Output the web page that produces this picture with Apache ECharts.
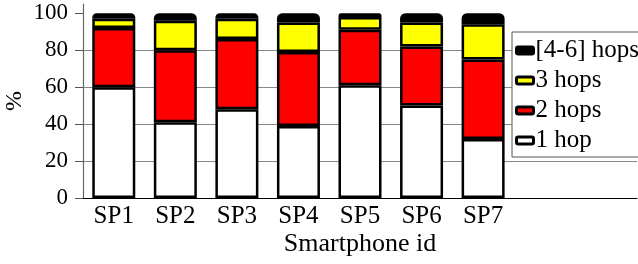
<!DOCTYPE html>
<html>
<head>
<meta charset="utf-8">
<script type="text/javascript" src="https://cdn.jsdelivr.net/npm/echarts@6/dist/echarts.min.js"></script>
<style>
    html, body { margin: 0; padding: 0; background: #fff; }
</style>
</head>
<body>
<div id="hops_chart" style="width: 638px;height: 264px;"></div>
<script>
    // categories (the last two are empty slots, the plot keeps room for them)
    var phones = ['SP1', 'SP2', 'SP3', 'SP4', 'SP5', 'SP6', 'SP7', '', ''];
    var yTicks = [0, 20, 40, 60, 80, 100];

    // share of packets per hop count, in %
    var hop1 = [60, 41, 48, 39, 61, 50, 32];
    var hop2 = [32, 39, 38, 40, 30, 32, 43];
    var hop3 = [5, 16, 11, 16, 7, 13, 19];
    var hop4to6 = [3, 4, 3, 5, 2, 5, 6];

    var font = 'Liberation Serif';

    function barSeries(name, data, color, radius) {
        return {
            name: name,
            type: 'bar',
            stack: 'hops',
            data: data,
            barWidth: 43,
            itemStyle: {
                color: color,
                borderColor: '#000',
                borderWidth: 2.5,
                borderRadius: radius
            }
        };
    }

    var myChart = echarts.init(document.getElementById('hops_chart'));
    var option = {
        animation: false,
        textStyle: { fontFamily: font },
        grid: {
            left: 83,
            right: 1,
            top: 4,
            bottom: 66,
            outerBoundsMode: 'none'
        },
        legend: {
            orient: 'vertical',
            left: 512,
            top: 32,
            data: ['[4-6] hops', '3 hops', '2 hops', '1 hop'],
            backgroundColor: '#fff',
            borderColor: '#555',
            borderWidth: 1,
            padding: [6, 10, 4, 3],
            itemGap: 5,
            itemWidth: 17,
            itemHeight: 7,
            icon: 'roundRect',
            selectedMode: false,
            itemStyle: { borderColor: '#000', borderWidth: 3 },
            textStyle: {
                fontFamily: font,
                fontSize: 25,
                lineHeight: 24,
                color: '#000',
                padding: [0, 0, 0, -3]
            }
        },
        xAxis: {
            type: 'category',
            data: phones,
            name: 'Smartphone id',
            nameLocation: 'middle',
            nameGap: 33,
            nameMoveOverlap: false,
            nameTextStyle: { fontFamily: font, fontSize: 26, color: '#000' },
            axisLine: { lineStyle: { color: '#000', width: 1 } },
            axisTick: {
                alignWithLabel: true,
                length: 6,
                interval: function (index) { return index < 7; },
                lineStyle: { color: '#444' }
            },
            axisLabel: {
                margin: 6,
                fontFamily: font,
                fontSize: 25,
                color: '#000'
            }
        },
        yAxis: {
            type: 'value',
            min: 0,
            max: 105,
            interval: 20,
            name: '%',
            nameLocation: 'middle',
            nameGap: 56,
            nameMoveOverlap: false,
            nameTextStyle: { fontFamily: font, fontSize: 24, color: '#000' },
            axisLine: { show: true, lineStyle: { color: '#666', width: 1.2 } },
            axisTick: {
                show: true,
                length: 8,
                customValues: yTicks,
                lineStyle: { color: '#555' }
            },
            axisLabel: {
                margin: 15,
                fontFamily: font,
                fontSize: 23,
                color: '#000',
                customValues: yTicks,
                formatter: function (v) { return v > 100 ? '' : v; }
            },
            splitLine: {
                show: true,
                lineStyle: {
                    color: ['#888', '#888', '#888', '#888', '#888', 'rgba(0,0,0,0)', 'rgba(0,0,0,0)'],
                    width: 1
                }
            }
        },
        series: [
            barSeries('1 hop', hop1, '#fff', 0),
            barSeries('2 hops', hop2, '#ff0000', 0),
            barSeries('3 hops', hop3, '#ffff00', 0),
            barSeries('[4-6] hops', hop4to6, '#000', [4, 4, 0, 0])
        ]
    };
    myChart.setOption(option);
</script>
</body>
</html>
